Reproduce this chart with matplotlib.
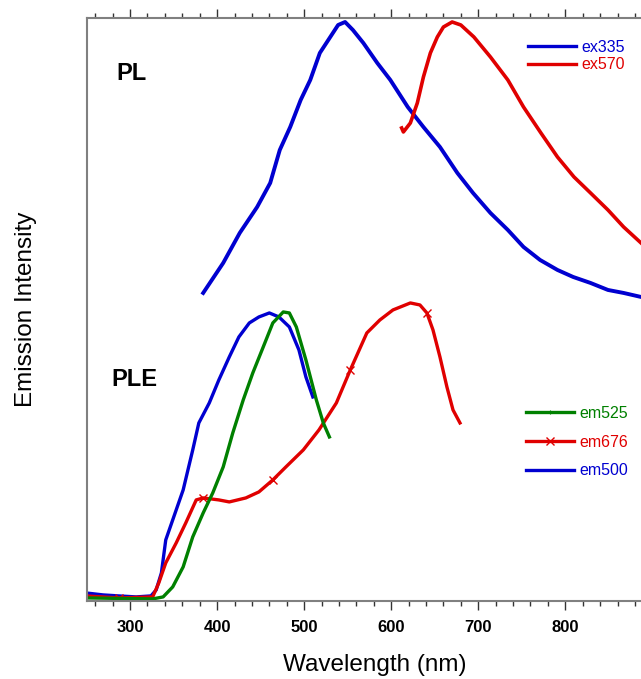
import matplotlib
matplotlib.use('Agg')
import matplotlib.pyplot as plt
from matplotlib.lines import Line2D
from matplotlib.ticker import MultipleLocator

plt.rcParams['font.family'] = ['Liberation Sans', 'DejaVu Sans']

# PL spectra
pl_ex335_wl = [384, 407, 426, 446, 461, 472, 484, 496, 507, 518, 530, 539, 547, 556, 568, 584,
               599, 619, 637, 656, 676, 694, 714, 734, 752, 771, 791, 809, 829, 849, 867, 887, 905]
pl_ex335 = [308, 338, 368, 394, 418, 451, 474, 501, 521, 548, 564, 576, 579, 571, 558, 538,
            521, 494, 474, 454, 428, 408, 388, 371, 354, 341, 331, 324, 318, 311, 308, 304, 301]

pl_ex570_wl = [612, 614, 622, 630, 637, 645, 653, 660, 670, 680, 695, 714, 734, 752, 772, 791,
               810, 829, 849, 867, 887, 905]
pl_ex570 = [473, 469, 478, 498, 524, 548, 564, 574, 579, 576, 564, 544, 521, 494, 468, 444,
            424, 408, 391, 374, 358, 344]

# PLE spectra
ple_em500_wl = [249, 269, 287, 307, 324, 330, 336, 341, 349, 361, 372, 379, 391, 402, 414, 425,
                437, 448, 460, 471, 483, 494, 502, 510]
ple_em500 = [8, 6, 5, 4, 5, 11, 28, 61, 81, 111, 151, 178, 198, 221, 244, 264,
             278, 284, 288, 284, 274, 251, 224, 204]

ple_em525_wl = [249, 326, 338, 349, 361, 372, 384, 395, 407, 418, 430, 441, 453, 464, 476, 483,
                491, 502, 514, 522, 529]
ple_em525 = [3, 2, 4, 14, 34, 64, 88, 108, 134, 168, 201, 228, 254, 278, 289, 288,
             274, 241, 201, 178, 164]

ple_em676_wl = [249, 287, 326, 333, 341, 353, 364, 376, 384, 402, 414, 433, 448, 464, 479, 499,
                517, 537, 553, 572, 587, 602, 622, 633, 641, 648, 656, 664, 671, 679]
ple_em676 = [5, 3, 4, 18, 38, 58, 78, 101, 103, 101, 99, 103, 109, 121, 134, 151,
             171, 198, 231, 268, 281, 291, 298, 296, 288, 271, 244, 214, 191, 178]
em676_marks = [1, 8, 13, 18, 24]

tick_values = [300, 400, 500, 600, 700, 800]

blue = '#0000d0'
red = '#e00000'
green = '#008000'

fig = plt.figure(figsize=(6.41, 6.79), dpi=100)
ax = fig.add_axes([0.135, 0.115, 1.034 - 0.135, 0.8585])

ax.plot(ple_em500_wl, ple_em500, color=blue, lw=2.4)
ax.plot(ple_em676_wl, ple_em676, color=red, lw=2.4, marker='x', ms=6, mew=1,
        markevery=em676_marks)
ax.plot(ple_em525_wl, ple_em525, color=green, lw=2.4)
ax.plot(pl_ex335_wl, pl_ex335, color=blue, lw=2.8)
ax.plot(pl_ex570_wl, pl_ex570, color=red, lw=2.6)

ax.set_xlim(250, 912)
ax.set_ylim(0, 583)
ax.set_xticks(tick_values)
ax.xaxis.set_minor_locator(MultipleLocator(20))
ax.set_yticks([])
ax.tick_params(axis='x', which='both', direction='out', top=True, labeltop=False,
               color='#333333', width=1)
ax.tick_params(axis='x', which='major', length=6.5, labelsize=12, pad=7)
ax.tick_params(axis='x', which='minor', length=3.6)
for lbl in ax.get_xticklabels():
    lbl.set_fontweight('bold')
ax.spines['right'].set_visible(False)
for s in ['left', 'top', 'bottom']:
    ax.spines[s].set_color('#808080')
    ax.spines[s].set_linewidth(1.5)

ax.set_xlabel('Wavelength (nm)', fontsize=17.5, labelpad=14)
ax.set_ylabel('Emission Intensity', fontsize=17.5, labelpad=36)

fig.text(131 / 641, 1 - 74 / 679, 'PL', fontsize=17, fontweight='bold', ha='center', va='center')
fig.text(134 / 641, 1 - 379 / 679, 'PLE', fontsize=17, fontweight='bold', ha='center', va='center')

h_pl = [Line2D([], [], color=blue, lw=2.4), Line2D([], [], color=red, lw=2.4)]
leg1 = ax.legend(h_pl, ['ex335', 'ex570'], loc='upper left',
                 bbox_to_anchor=(528 / 641, 1 - 40 / 679), bbox_transform=fig.transFigure,
                 frameon=False, fontsize=11.5, labelcolor='linecolor', handlelength=3.0,
                 handletextpad=0.35, labelspacing=0.15, borderpad=0, borderaxespad=0)
ax.add_artist(leg1)

h_ple = [Line2D([], [], color=green, lw=2.4, marker='|', ms=3, mew=0.8),
         Line2D([], [], color=red, lw=2.4, marker='x', ms=6, mew=1),
         Line2D([], [], color=blue, lw=2.4)]
ax.legend(h_ple, ['em525', 'em676', 'em500'], loc='upper left',
          bbox_to_anchor=(526 / 641, 1 - 406 / 679), bbox_transform=fig.transFigure,
          frameon=False, fontsize=11.5, labelcolor='linecolor', handlelength=3.0,
          handletextpad=0.35, labelspacing=0.85, borderpad=0, borderaxespad=0)

fig.savefig('out.png', dpi=100)
